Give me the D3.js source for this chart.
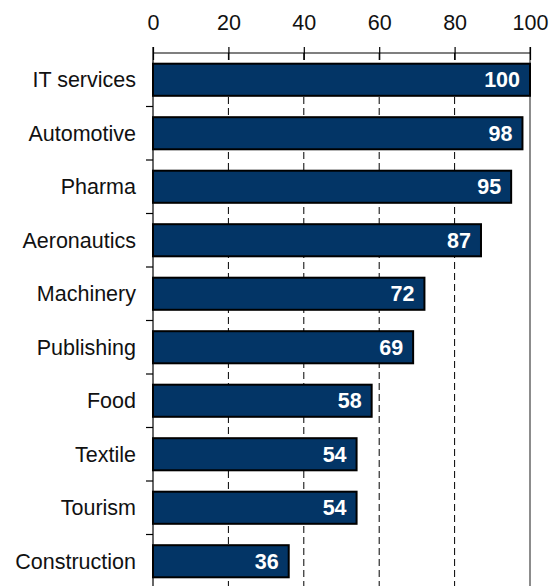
<!DOCTYPE html>
<html>
<head>
<meta charset="utf-8">
<script src="https://cdn.jsdelivr.net/npm/d3@7"></script>
<style>
  html, body { margin: 0; padding: 0; background: #fff; }
  svg { display: block; font-family: "Liberation Sans", Arial, sans-serif; }
</style>
</head>
<body>
<svg id="chart" width="555" height="586"></svg>
<script>
// Sector scores, ranked highest first
const sectors = ["IT services", "Automotive", "Pharma", "Aeronautics", "Machinery",
                 "Publishing", "Food", "Textile", "Tourism", "Construction"];
const scores = [100, 98, 95, 87, 72, 69, 58, 54, 54, 36];
const xTicks = [0, 20, 40, 60, 80, 100];
const gridTicks = [20, 40, 60, 80];

const svg = d3.select("#chart");
const plotLeft = 153, plotRight = 530, plotTop = 53, plotBottom = 588;
const fontSize = 21.5;

const x = d3.scaleLinear().domain([0, 100]).range([plotLeft, plotRight]);
const y = d3.scaleBand().domain(sectors).range([plotTop, plotBottom])
  .paddingInner(0.4).paddingOuter(0.2);

// dashed gridlines
svg.append("g").selectAll("line").data(gridTicks).join("line")
  .attr("x1", d => x(d)).attr("x2", d => x(d))
  .attr("y1", plotTop).attr("y2", plotBottom)
  .attr("stroke", "#000").attr("stroke-width", 1)
  .attr("stroke-dasharray", "7,4");

// solid grey frame line at the maximum
svg.append("line")
  .attr("x1", x(100)).attr("x2", x(100))
  .attr("y1", plotTop - 6).attr("y2", plotBottom)
  .attr("stroke", "#8c8c8c").attr("stroke-width", 2);

// bars
svg.append("g").selectAll("rect").data(sectors).join("rect")
  .attr("x", x(0))
  .attr("y", d => y(d))
  .attr("width", (d, i) => x(scores[i]) - x(0))
  .attr("height", y.bandwidth())
  .attr("fill", "#033566")
  .attr("stroke", "#000")
  .attr("stroke-width", 2);

// value labels inside bar ends
svg.append("g").selectAll("text").data(sectors).join("text")
  .attr("x", (d, i) => x(scores[i]) - 10)
  .attr("y", d => y(d) + y.bandwidth() / 2 + 7.5)
  .attr("text-anchor", "end")
  .attr("fill", "#fff")
  .attr("font-weight", "bold")
  .attr("font-size", fontSize)
  .text((d, i) => scores[i]);

// top axis
const xAxis = d3.axisTop(x).tickValues(xTicks).tickSize(6).tickPadding(0);
const gx = svg.append("g").attr("transform", `translate(0,${plotTop})`).call(xAxis);
gx.select(".domain").attr("stroke", "#000").attr("stroke-width", 1.2)
  .attr("d", `M${plotLeft},0H${plotRight}`);
gx.selectAll(".tick line").attr("y1", 7).attr("y2", -6).attr("stroke", "#000").attr("stroke-width", 1.2);
gx.selectAll(".tick text")
  .attr("y", -23).attr("dy", null)
  .attr("font-size", fontSize)
  .attr("font-family", "Liberation Sans, Arial, sans-serif")
  .attr("fill", "#111");

// left axis with ticks between categories
svg.append("line")
  .attr("x1", plotLeft).attr("x2", plotLeft)
  .attr("y1", plotTop - 6).attr("y2", plotBottom)
  .attr("stroke", "#000").attr("stroke-width", 1.2);

const step = y.step();
const boundaries = sectors.map(d => y(d) - (step - y.bandwidth()) / 2).slice(1);
svg.append("g").selectAll("line").data(boundaries).join("line")
  .attr("x1", plotLeft - 7).attr("x2", plotLeft)
  .attr("y1", d => d).attr("y2", d => d)
  .attr("stroke", "#000").attr("stroke-width", 1.2);

// category labels
svg.append("g").selectAll("text").data(sectors).join("text")
  .attr("x", 136)
  .attr("y", d => y(d) + y.bandwidth() / 2 + 7.5)
  .attr("text-anchor", "end")
  .attr("font-size", fontSize)
  .attr("fill", "#111")
  .text(d => d);
</script>
</body>
</html>
